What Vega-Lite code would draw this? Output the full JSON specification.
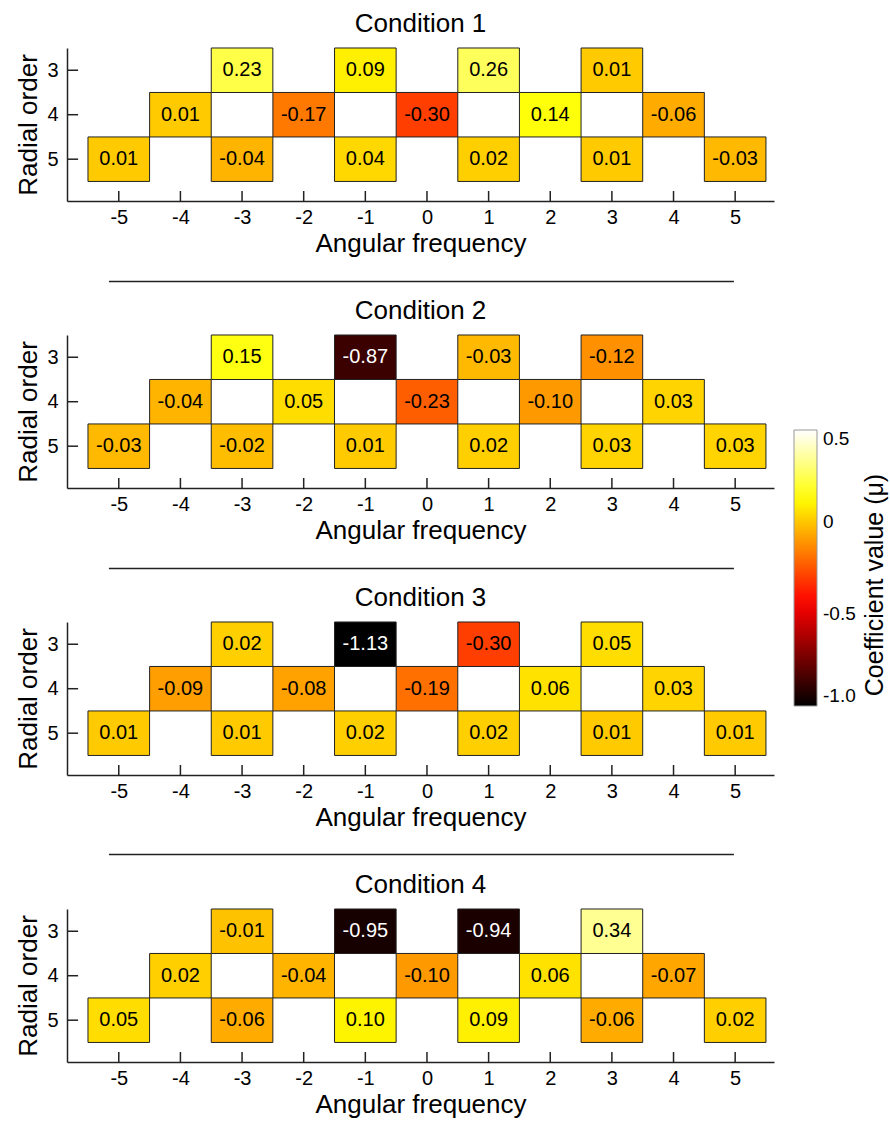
{
  "$schema": "https://vega.github.io/schema/vega-lite/v6.json",
  "background": "white",
  "padding": {"left": 15, "top": 11, "right": 5, "bottom": 5},
  "datasets": {
    "cells": [
      {"cond": 1, "af": -3, "ro": 3, "v": 0.23},
      {"cond": 1, "af": -1, "ro": 3, "v": 0.09},
      {"cond": 1, "af": 1, "ro": 3, "v": 0.26},
      {"cond": 1, "af": 3, "ro": 3, "v": 0.01},
      {"cond": 1, "af": -4, "ro": 4, "v": 0.01},
      {"cond": 1, "af": -2, "ro": 4, "v": -0.17},
      {"cond": 1, "af": 0, "ro": 4, "v": -0.30},
      {"cond": 1, "af": 2, "ro": 4, "v": 0.14},
      {"cond": 1, "af": 4, "ro": 4, "v": -0.06},
      {"cond": 1, "af": -5, "ro": 5, "v": 0.01},
      {"cond": 1, "af": -3, "ro": 5, "v": -0.04},
      {"cond": 1, "af": -1, "ro": 5, "v": 0.04},
      {"cond": 1, "af": 1, "ro": 5, "v": 0.02},
      {"cond": 1, "af": 3, "ro": 5, "v": 0.01},
      {"cond": 1, "af": 5, "ro": 5, "v": -0.03},
      {"cond": 2, "af": -3, "ro": 3, "v": 0.15},
      {"cond": 2, "af": -1, "ro": 3, "v": -0.87},
      {"cond": 2, "af": 1, "ro": 3, "v": -0.03},
      {"cond": 2, "af": 3, "ro": 3, "v": -0.12},
      {"cond": 2, "af": -4, "ro": 4, "v": -0.04},
      {"cond": 2, "af": -2, "ro": 4, "v": 0.05},
      {"cond": 2, "af": 0, "ro": 4, "v": -0.23},
      {"cond": 2, "af": 2, "ro": 4, "v": -0.10},
      {"cond": 2, "af": 4, "ro": 4, "v": 0.03},
      {"cond": 2, "af": -5, "ro": 5, "v": -0.03},
      {"cond": 2, "af": -3, "ro": 5, "v": -0.02},
      {"cond": 2, "af": -1, "ro": 5, "v": 0.01},
      {"cond": 2, "af": 1, "ro": 5, "v": 0.02},
      {"cond": 2, "af": 3, "ro": 5, "v": 0.03},
      {"cond": 2, "af": 5, "ro": 5, "v": 0.03},
      {"cond": 3, "af": -3, "ro": 3, "v": 0.02},
      {"cond": 3, "af": -1, "ro": 3, "v": -1.13},
      {"cond": 3, "af": 1, "ro": 3, "v": -0.30},
      {"cond": 3, "af": 3, "ro": 3, "v": 0.05},
      {"cond": 3, "af": -4, "ro": 4, "v": -0.09},
      {"cond": 3, "af": -2, "ro": 4, "v": -0.08},
      {"cond": 3, "af": 0, "ro": 4, "v": -0.19},
      {"cond": 3, "af": 2, "ro": 4, "v": 0.06},
      {"cond": 3, "af": 4, "ro": 4, "v": 0.03},
      {"cond": 3, "af": -5, "ro": 5, "v": 0.01},
      {"cond": 3, "af": -3, "ro": 5, "v": 0.01},
      {"cond": 3, "af": -1, "ro": 5, "v": 0.02},
      {"cond": 3, "af": 1, "ro": 5, "v": 0.02},
      {"cond": 3, "af": 3, "ro": 5, "v": 0.01},
      {"cond": 3, "af": 5, "ro": 5, "v": 0.01},
      {"cond": 4, "af": -3, "ro": 3, "v": -0.01},
      {"cond": 4, "af": -1, "ro": 3, "v": -0.95},
      {"cond": 4, "af": 1, "ro": 3, "v": -0.94},
      {"cond": 4, "af": 3, "ro": 3, "v": 0.34},
      {"cond": 4, "af": -4, "ro": 4, "v": 0.02},
      {"cond": 4, "af": -2, "ro": 4, "v": -0.04},
      {"cond": 4, "af": 0, "ro": 4, "v": -0.10},
      {"cond": 4, "af": 2, "ro": 4, "v": 0.06},
      {"cond": 4, "af": 4, "ro": 4, "v": -0.07},
      {"cond": 4, "af": -5, "ro": 5, "v": 0.05},
      {"cond": 4, "af": -3, "ro": 5, "v": -0.06},
      {"cond": 4, "af": -1, "ro": 5, "v": 0.10},
      {"cond": 4, "af": 1, "ro": 5, "v": 0.09},
      {"cond": 4, "af": 3, "ro": 5, "v": -0.06},
      {"cond": 4, "af": 5, "ro": 5, "v": 0.02}
    ]
  },
  "config": {
    "locale": {"number": {"decimal": ".", "thousands": ",", "grouping": [3], "currency": ["$", ""], "minus": "-"}},
    "font": "Liberation Sans",
    "view": {"stroke": null},
    "axis": {
      "grid": false,
      "ticks": false,
      "domainColor": "#222222",
      "domainWidth": 1.5,
      "labelFont": "Liberation Sans",
      "labelFontSize": 20,
      "labelColor": "black",
      "titleFont": "Liberation Sans",
      "titleFontSize": 26,
      "titleFontWeight": "normal",
      "titleColor": "black"
    },
    "axisX": {"labelPadding": 6, "titlePadding": 3},
    "axisY": {"labelPadding": 9, "titlePadding": 5},
    "title": {"font": "Liberation Sans", "fontSize": 26, "fontWeight": "normal", "color": "black", "offset": 10},
    "legend": {"labelFont": "Liberation Sans", "labelFontSize": 19, "labelColor": "black", "titleFont": "Liberation Sans", "titleFontSize": 25, "titleFontWeight": "normal", "titleColor": "black"}
  },
  "bounds": "flush",
  "spacing": 134,
  "vconcat": [
    {
      "width": 707, "height": 153,
      "title": "Condition 1",
      "data": {"name": "cells"},
      "encoding": {
        "x": {"field": "af", "type": "quantitative", "scale": {"domain": [-5.84, 5.63], "nice": false, "zero": false}, "axis": {"values": [-5,-4,-3,-2,-1,0,1,2,3,4,5], "title": "Angular frequency"}},
        "y": {"field": "ro", "type": "quantitative", "scale": {"domain": [2.5, 5.94], "reverse": true, "nice": false, "zero": false}, "axis": {"values": [3,4,5], "title": "Radial order"}}
      },
      "layer": [
        {"transform": [{"filter": "datum.cond == 1"}],
         "mark": {"type": "rect", "width": 61.6, "height": 44.5, "stroke": "#222222", "strokeWidth": 1},
         "encoding": {"color": {"field": "v", "type": "quantitative", "scale": {"domain": [-1, -0.4375, 0.125, 0.5], "range": ["#000000", "#ff0000", "#ffff00", "#ffffff"], "clamp": true, "interpolate": "rgb"},
           "legend": {"orient": "none", "legendX": 727, "legendY": 382, "direction": "vertical", "gradientLength": 276, "gradientThickness": 23, "gradientStrokeColor": "#999999", "gradientStrokeWidth": 1, "values": [-1, -0.5, 0, 0.5], "labelOffset": 6, "labelBaseline": "middle", "labelExpr": "datum.value <= -1 ? '-1.0' : datum.value == 0 ? '0' : format(datum.value, '.1f')", "title": "Coefficient value (μ)", "titleOrient": "right", "titleAnchor": "middle", "titlePadding": 32, "titleLimit": 500, "encode": {"title": {"update": {"angle": {"value": 270}, "dx": {"value": -17}}}}}}}},
        {"transform": [{"filter": "datum.cond == 1"}],
         "mark": {"type": "text", "fontSize": 20},
         "encoding": {"text": {"field": "v", "type": "quantitative", "format": ".2f"}, "color": {"condition": {"test": "datum.v < -0.6", "value": "white"}, "value": "black"}}},
        {"transform": [{"filter": "datum.cond == 1 && datum.ro != 3"}],
         "mark": {"type": "rule", "strokeWidth": 1.5, "color": "#222222"},
         "encoding": {"y": {"datum": 5.94}, "y2": {"datum": 5.715}}},
        {"transform": [{"filter": "datum.cond == 1 && (datum.af == -3 || datum.af == 4)"}],
         "mark": {"type": "rule", "strokeWidth": 1.5, "color": "#222222"},
         "encoding": {"x": {"datum": -5.84}, "x2": {"datum": -5.66}}},
        {"transform": [{"filter": "datum.cond == 1 && datum.af == -5"}],
         "mark": {"type": "rule", "strokeWidth": 1.5, "color": "#222222", "clip": false},
         "encoding": {"x": {"datum": -5.16}, "x2": {"datum": 4.98}, "y": {"datum": 7.75}}}
      ]
    },
    {
      "width": 707, "height": 153,
      "title": "Condition 2",
      "data": {"name": "cells"},
      "encoding": {
        "x": {"field": "af", "type": "quantitative", "scale": {"domain": [-5.84, 5.63], "nice": false, "zero": false}, "axis": {"values": [-5,-4,-3,-2,-1,0,1,2,3,4,5], "title": "Angular frequency"}},
        "y": {"field": "ro", "type": "quantitative", "scale": {"domain": [2.5, 5.94], "reverse": true, "nice": false, "zero": false}, "axis": {"values": [3,4,5], "title": "Radial order"}}
      },
      "layer": [
        {"transform": [{"filter": "datum.cond == 2"}],
         "mark": {"type": "rect", "width": 61.6, "height": 44.5, "stroke": "#222222", "strokeWidth": 1},
         "encoding": {"color": {"field": "v", "type": "quantitative", "scale": {"domain": [-1, -0.4375, 0.125, 0.5], "range": ["#000000", "#ff0000", "#ffff00", "#ffffff"], "clamp": true, "interpolate": "rgb"},
           "legend": {"orient": "none", "legendX": 727, "legendY": 382, "direction": "vertical", "gradientLength": 276, "gradientThickness": 23, "gradientStrokeColor": "#999999", "gradientStrokeWidth": 1, "values": [-1, -0.5, 0, 0.5], "labelOffset": 6, "labelBaseline": "middle", "labelExpr": "datum.value <= -1 ? '-1.0' : datum.value == 0 ? '0' : format(datum.value, '.1f')", "title": "Coefficient value (μ)", "titleOrient": "right", "titleAnchor": "middle", "titlePadding": 32, "titleLimit": 500, "encode": {"title": {"update": {"angle": {"value": 270}, "dx": {"value": -17}}}}}}}},
        {"transform": [{"filter": "datum.cond == 2"}],
         "mark": {"type": "text", "fontSize": 20},
         "encoding": {"text": {"field": "v", "type": "quantitative", "format": ".2f"}, "color": {"condition": {"test": "datum.v < -0.6", "value": "white"}, "value": "black"}}},
        {"transform": [{"filter": "datum.cond == 2 && datum.ro != 3"}],
         "mark": {"type": "rule", "strokeWidth": 1.5, "color": "#222222"},
         "encoding": {"y": {"datum": 5.94}, "y2": {"datum": 5.715}}},
        {"transform": [{"filter": "datum.cond == 2 && (datum.af == -3 || datum.af == 4)"}],
         "mark": {"type": "rule", "strokeWidth": 1.5, "color": "#222222"},
         "encoding": {"x": {"datum": -5.84}, "x2": {"datum": -5.66}}},
        {"transform": [{"filter": "datum.cond == 2 && datum.af == -5"}],
         "mark": {"type": "rule", "strokeWidth": 1.5, "color": "#222222", "clip": false},
         "encoding": {"x": {"datum": -5.16}, "x2": {"datum": 4.98}, "y": {"datum": 7.75}}}
      ]
    },
    {
      "width": 707, "height": 153,
      "title": "Condition 3",
      "data": {"name": "cells"},
      "encoding": {
        "x": {"field": "af", "type": "quantitative", "scale": {"domain": [-5.84, 5.63], "nice": false, "zero": false}, "axis": {"values": [-5,-4,-3,-2,-1,0,1,2,3,4,5], "title": "Angular frequency"}},
        "y": {"field": "ro", "type": "quantitative", "scale": {"domain": [2.5, 5.94], "reverse": true, "nice": false, "zero": false}, "axis": {"values": [3,4,5], "title": "Radial order"}}
      },
      "layer": [
        {"transform": [{"filter": "datum.cond == 3"}],
         "mark": {"type": "rect", "width": 61.6, "height": 44.5, "stroke": "#222222", "strokeWidth": 1},
         "encoding": {"color": {"field": "v", "type": "quantitative", "scale": {"domain": [-1, -0.4375, 0.125, 0.5], "range": ["#000000", "#ff0000", "#ffff00", "#ffffff"], "clamp": true, "interpolate": "rgb"},
           "legend": {"orient": "none", "legendX": 727, "legendY": 382, "direction": "vertical", "gradientLength": 276, "gradientThickness": 23, "gradientStrokeColor": "#999999", "gradientStrokeWidth": 1, "values": [-1, -0.5, 0, 0.5], "labelOffset": 6, "labelBaseline": "middle", "labelExpr": "datum.value <= -1 ? '-1.0' : datum.value == 0 ? '0' : format(datum.value, '.1f')", "title": "Coefficient value (μ)", "titleOrient": "right", "titleAnchor": "middle", "titlePadding": 32, "titleLimit": 500, "encode": {"title": {"update": {"angle": {"value": 270}, "dx": {"value": -17}}}}}}}},
        {"transform": [{"filter": "datum.cond == 3"}],
         "mark": {"type": "text", "fontSize": 20},
         "encoding": {"text": {"field": "v", "type": "quantitative", "format": ".2f"}, "color": {"condition": {"test": "datum.v < -0.6", "value": "white"}, "value": "black"}}},
        {"transform": [{"filter": "datum.cond == 3 && datum.ro != 3"}],
         "mark": {"type": "rule", "strokeWidth": 1.5, "color": "#222222"},
         "encoding": {"y": {"datum": 5.94}, "y2": {"datum": 5.715}}},
        {"transform": [{"filter": "datum.cond == 3 && (datum.af == -3 || datum.af == 4)"}],
         "mark": {"type": "rule", "strokeWidth": 1.5, "color": "#222222"},
         "encoding": {"x": {"datum": -5.84}, "x2": {"datum": -5.66}}},
        {"transform": [{"filter": "datum.cond == 3 && datum.af == -5"}],
         "mark": {"type": "rule", "strokeWidth": 1.5, "color": "#222222", "clip": false},
         "encoding": {"x": {"datum": -5.16}, "x2": {"datum": 4.98}, "y": {"datum": 7.73}}}
      ]
    },
    {
      "width": 707, "height": 153,
      "title": "Condition 4",
      "data": {"name": "cells"},
      "encoding": {
        "x": {"field": "af", "type": "quantitative", "scale": {"domain": [-5.84, 5.63], "nice": false, "zero": false}, "axis": {"values": [-5,-4,-3,-2,-1,0,1,2,3,4,5], "title": "Angular frequency"}},
        "y": {"field": "ro", "type": "quantitative", "scale": {"domain": [2.5, 5.94], "reverse": true, "nice": false, "zero": false}, "axis": {"values": [3,4,5], "title": "Radial order"}}
      },
      "layer": [
        {"transform": [{"filter": "datum.cond == 4"}],
         "mark": {"type": "rect", "width": 61.6, "height": 44.5, "stroke": "#222222", "strokeWidth": 1},
         "encoding": {"color": {"field": "v", "type": "quantitative", "scale": {"domain": [-1, -0.4375, 0.125, 0.5], "range": ["#000000", "#ff0000", "#ffff00", "#ffffff"], "clamp": true, "interpolate": "rgb"},
           "legend": {"orient": "none", "legendX": 727, "legendY": 382, "direction": "vertical", "gradientLength": 276, "gradientThickness": 23, "gradientStrokeColor": "#999999", "gradientStrokeWidth": 1, "values": [-1, -0.5, 0, 0.5], "labelOffset": 6, "labelBaseline": "middle", "labelExpr": "datum.value <= -1 ? '-1.0' : datum.value == 0 ? '0' : format(datum.value, '.1f')", "title": "Coefficient value (μ)", "titleOrient": "right", "titleAnchor": "middle", "titlePadding": 32, "titleLimit": 500, "encode": {"title": {"update": {"angle": {"value": 270}, "dx": {"value": -17}}}}}}}},
        {"transform": [{"filter": "datum.cond == 4"}],
         "mark": {"type": "text", "fontSize": 20},
         "encoding": {"text": {"field": "v", "type": "quantitative", "format": ".2f"}, "color": {"condition": {"test": "datum.v < -0.6", "value": "white"}, "value": "black"}}},
        {"transform": [{"filter": "datum.cond == 4 && datum.ro != 3"}],
         "mark": {"type": "rule", "strokeWidth": 1.5, "color": "#222222"},
         "encoding": {"y": {"datum": 5.94}, "y2": {"datum": 5.715}}},
        {"transform": [{"filter": "datum.cond == 4 && (datum.af == -3 || datum.af == 4)"}],
         "mark": {"type": "rule", "strokeWidth": 1.5, "color": "#222222"},
         "encoding": {"x": {"datum": -5.84}, "x2": {"datum": -5.66}}}
      ]
    }
  ]
}
